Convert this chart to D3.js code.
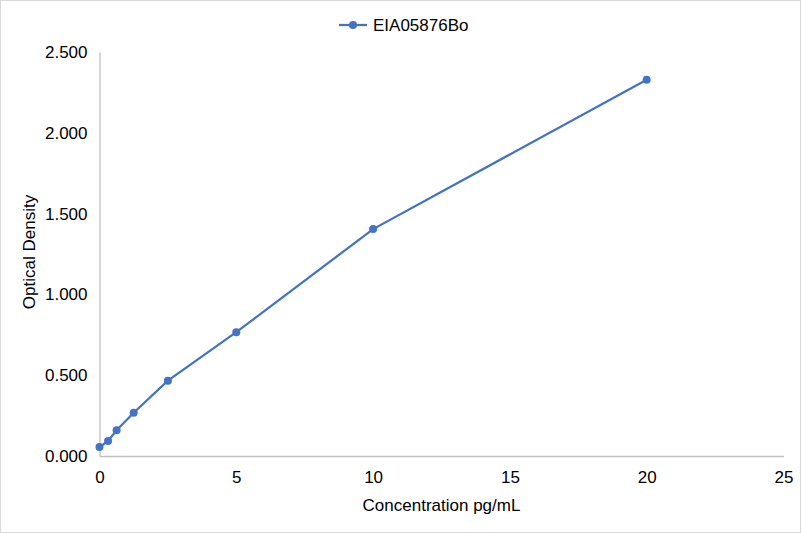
<!DOCTYPE html>
<html lang="en">
	<head>
		<meta charset="utf-8">
		<title>EIA05876Bo standard curve</title>
		<script type="text/javascript" src="https://cdn.jsdelivr.net/npm/d3@7"></script>
		<style type="text/css">
			body { margin: 0; background: #fff; }
			text { font-family: Arial, "Liberation Sans", sans-serif; fill: #000; }
		</style>
	</head>
	<body>
		<script type="text/javascript">

			//Width and height
			var w = 801;
			var h = 533;

			var seriesName = "EIA05876Bo";
			var concentration = [0, 0.3125, 0.625, 1.25, 2.5, 5, 10, 20];
			var density = [0.055, 0.093, 0.159, 0.268, 0.466, 0.766, 1.404, 2.328];
			var xTicks = [0, 5, 10, 15, 20, 25];
			var yTicks = [0, 0.5, 1.0, 1.5, 2.0, 2.5];

			var dataset = concentration.map(function(c, i){ return [c, density[i]]; });

			var xScale = d3.scaleLinear()
			.domain([0, 25])
			.range([99.5, 783.5]);

			var yScale = d3.scaleLinear()
			.domain([0, 2.5])
			.range([456, 52]);

			//Create SVG element
			var svg = d3.select("body")
						.append("svg")
						.attr("width", w)
						.attr("height", h);

			svg.append("rect")
			.attr("x", 0.5).attr("y", 0.5)
			.attr("width", w - 1).attr("height", h - 1)
			.attr("fill", "#fff")
			.attr("stroke", "#d9d9d9");

			//x axis
			var xAxis = d3.axisBottom(xScale)
			.tickValues(xTicks)
			.tickSize(0)
			.tickPadding(15)
			.tickFormat(d3.format("d"));

			var gx = svg.append("g")
			.attr("transform", "translate(0,456)")
			.call(xAxis);
			gx.select(".domain").attr("stroke", "#bfbfbf").attr("stroke-width", 1.3);
			gx.selectAll("text").attr("font-size", 17).attr("fill", "#000");

			//y axis
			var yAxis = d3.axisLeft(yScale)
			.tickValues(yTicks)
			.tickSize(0)
			.tickPadding(12)
			.tickFormat(d3.format(".3f"));

			var gy = svg.append("g")
			.attr("transform", "translate(99.5,0)")
			.call(yAxis);
			gy.select(".domain").attr("stroke", "#bfbfbf").attr("stroke-width", 1.3);
			gy.selectAll("text").attr("font-size", 17).attr("fill", "#000");
			svg.selectAll(".domain").attr("fill", "none");

			//line and markers
			var line = d3.line()
			.x(function(d){ return xScale(d[0]); })
			.y(function(d){ return yScale(d[1]); });

			svg.append("path")
			.datum(dataset)
			.attr("d", line)
			.attr("fill", "none")
			.attr("stroke", "#4472c4")
			.attr("stroke-width", 2.25);

			svg.selectAll("circle.pt")
			.data(dataset)
			.enter()
			.append("circle")
			.attr("class", "pt")
			.attr("cx", function(d){ return xScale(d[0]); })
			.attr("cy", function(d){ return yScale(d[1]); })
			.attr("r", 4)
			.attr("fill", "#4472c4");

			//axis titles
			svg.append("text")
			.attr("x", 441.5)
			.attr("y", 511)
			.attr("text-anchor", "middle")
			.attr("font-size", 17)
			.text("Concentration pg/mL");

			svg.append("text")
			.attr("transform", "translate(35,252) rotate(-90)")
			.attr("text-anchor", "middle")
			.attr("font-size", 17)
			.text("Optical Density");

			//legend
			var legend = svg.append("g");
			legend.append("line")
			.attr("x1", 339).attr("x2", 367)
			.attr("y1", 25).attr("y2", 25)
			.attr("stroke", "#4472c4")
			.attr("stroke-width", 2.25);
			legend.append("circle")
			.attr("cx", 353).attr("cy", 25).attr("r", 4)
			.attr("fill", "#4472c4");
			legend.append("text")
			.attr("x", 373)
			.attr("y", 31)
			.attr("font-size", 17)
			.text(seriesName);

		</script>
	</body>
</html>
